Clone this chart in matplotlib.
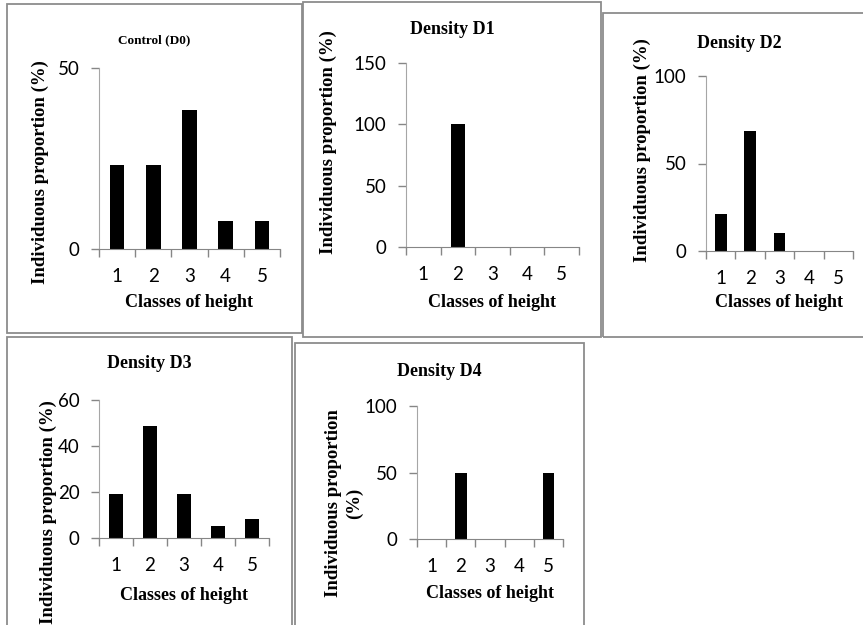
import numpy as np
import matplotlib
matplotlib.use("Agg")
import matplotlib.pyplot as plt
from matplotlib.patches import Rectangle

W, H = 863, 625

classes = [1, 2, 3, 4, 5]
d0 = [23.08, 23.08, 38.46, 7.69, 7.69]
d1 = [0, 100, 0, 0, 0]
d2 = [21.05, 68.42, 10.53, 0, 0]
d3 = [18.92, 48.65, 18.92, 5.41, 8.11]
d4 = [0, 50, 0, 0, 50]

titles = ["Control (D0)", "Density D1", "Density D2", "Density D3", "Density D4"]
ylab = "Individuous proportion (%)"
xlab = "Classes of height"

serif = "Liberation Serif"
sans = "Lato"

fig = plt.figure(figsize=(W / 100, H / 100), dpi=100)


def fx(x):
    return x / W


def fy(y):
    return 1 - y / H


def box(l, t, r, b):
    fig.add_artist(Rectangle((fx(l), fy(b)), fx(r) - fx(l), fy(t) - fy(b),
                             transform=fig.transFigure, fill=False,
                             edgecolor="#8c8c8c", lw=1.3))


def panel(rect, vals, ymax, yticks, title, tpos, ypos, xpos, tsize=13, ytext=ylab):
    l, t, r, b = rect
    ax = fig.add_axes([fx(l), fy(b), fx(r) - fx(l), fy(t) - fy(b)])
    ax.bar(classes, vals, width=0.4, color="black")
    ax.set_xlim(0.5, 5.5)
    ax.set_ylim(0, ymax)
    ax.set_yticks(yticks)
    ax.set_xticks(classes)
    ax.set_xticks(np.arange(0.5, 6, 1), minor=True)
    ax.tick_params(axis="x", which="major", length=0, pad=14)
    ax.tick_params(axis="x", which="minor", length=6, color="#868686", width=1)
    ax.tick_params(axis="y", length=6, color="#868686", width=1, pad=8)
    for lbl in ax.get_xticklabels() + ax.get_yticklabels():
        lbl.set_fontfamily(sans)
        lbl.set_fontsize(13.5)
    for s in ["top", "right"]:
        ax.spines[s].set_visible(False)
    ax.spines["left"].set_color("#a6a6a6")
    ax.spines["bottom"].set_color("#868686")
    ax.set_facecolor("none")
    fig.text(fx(tpos[0]), fy(tpos[1]), title, ha="center", va="center",
             family=serif, weight="bold", fontsize=tsize)
    fig.text(fx(ypos[0]), fy(ypos[1]), ytext, ha="center", va="center",
             rotation=90, family=serif, weight="bold", fontsize=13.5,
             linespacing=1.3)
    fig.text(fx(xpos[0]), fy(xpos[1]), xlab, ha="center", va="center",
             family=serif, weight="bold", fontsize=13)
    return ax


box(7, 4, 302, 333)
box(303, 2, 601, 337)
box(603, 13, 875, 337)
box(7, 337, 292, 635)
box(295, 343, 584, 635)

panel((99, 68, 280, 249), d0, 50, [0, 50], titles[0], (154, 40), (40, 172), (189, 302), tsize=9.5)
panel((406, 63, 579, 247), d1, 150, [0, 50, 100, 150], titles[1], (452, 29), (328, 142), (492, 302))
panel((706, 76, 853, 251), d2, 100, [0, 50, 100], titles[2], (739, 43), (642, 150), (779, 302))
panel((99, 400, 269, 538), d3, 60, [0, 20, 40, 60], titles[3], (149, 363), (48, 512), (184, 595))
panel((417, 406, 563, 539), d4, 100, [0, 50, 100], titles[4], (439, 371), (344, 503), (490, 593),
      ytext="Individuous proportion\n(%)")

fig.savefig("out.png", dpi=100)
